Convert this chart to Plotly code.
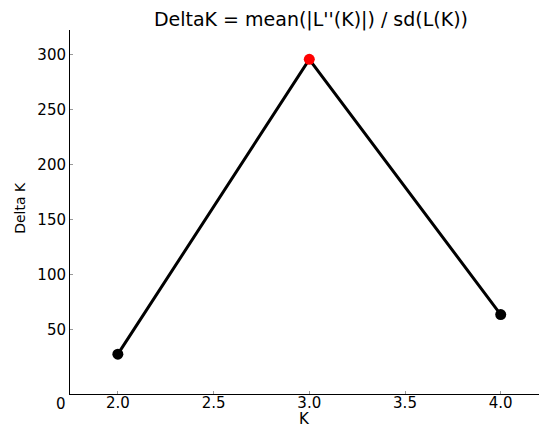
import plotly.graph_objects as go

k_values = [2.0, 3.0, 4.0]
delta_k = [28, 296, 64]
point_colors = ["black", "red", "black"]

x_ticks = [2.0, 2.5, 3.0, 3.5, 4.0]
x_tick_text = ["2.0", "2.5", "3.0", "3.5", "4.0"]
y_ticks = [50, 100, 150, 200, 250, 300]

fig = go.Figure()
fig.add_trace(go.Scatter(
    x=k_values, y=delta_k,
    mode="lines+markers",
    line=dict(color="black", width=3),
    marker=dict(color=point_colors, size=11),
    showlegend=False,
))

# stray "0" at the corner, plus axis titles
fig.add_annotation(text="0", xref="paper", yref="paper", x=-0.019, y=-0.0275,
                   showarrow=False, xanchor="center", yanchor="middle",
                   font=dict(size=15, color="black"))
fig.add_annotation(text="K", xref="paper", yref="paper", x=0.5, y=-0.07,
                   showarrow=False, xanchor="center", yanchor="middle",
                   font=dict(size=15, color="black"))
fig.add_annotation(text="Delta K", xref="paper", yref="paper", x=-0.107, y=0.511,
                   showarrow=False, xanchor="center", yanchor="middle", textangle=-90,
                   font=dict(size=14, color="black"))

# page body adds an 8px offset, so size the figure to fit the window
fig.update_layout(
    width=542, height=427,
    margin=dict(l=62, r=11, t=22, b=41, autoexpand=False),
    plot_bgcolor="white", paper_bgcolor="white",
    font=dict(family="DejaVu Sans", color="black"),
    title=dict(text="DeltaK = mean(|L''(K)|) / sd(L(K))", x=0.559, xanchor="center",
               y=0.973, yanchor="middle", font=dict(size=19)),
)
fig.update_xaxes(
    range=[1.75, 4.2], tickvals=x_ticks, ticktext=x_tick_text, automargin=False,
    showgrid=False, zeroline=False, showline=True, linecolor="black", linewidth=1,
    ticks="inside", ticklen=3, tickcolor="#999", tickfont=dict(size=15),
    ticklabelstandoff=-5,
)
fig.update_yaxes(
    range=[-8.2, 322.7], tickvals=y_ticks, automargin=False,
    showgrid=False, zeroline=False, showline=True, linecolor="black", linewidth=1,
    ticks="inside", ticklen=3, tickcolor="#999", tickfont=dict(size=15),
)

fig.write_html("out.html")
